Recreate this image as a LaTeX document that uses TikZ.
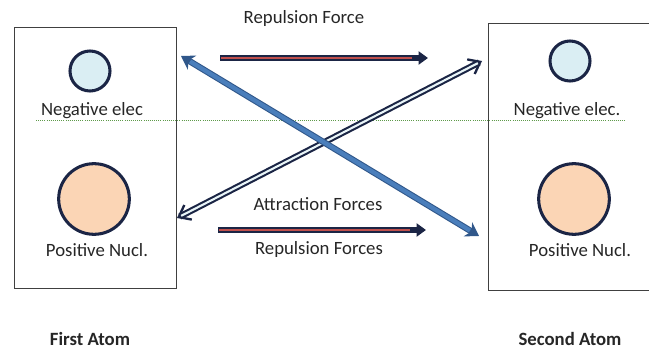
\documentclass[tikz,border=0pt]{standalone}
\usepackage{fontspec}
\setmainfont{Carlito}
\usetikzlibrary{arrows.meta}
\definecolor{navyline}{HTML}{1B2545}
\definecolor{elecfill}{HTML}{DAEEF3}
\definecolor{nuclfill}{HTML}{FBD5B5}
\definecolor{bluearrow}{HTML}{4A7EBB}
\definecolor{blueedge}{HTML}{30578A}
\definecolor{redcore}{HTML}{C0504D}
\definecolor{squiggle}{HTML}{5E9A4A}
\begin{document}
\begin{tikzpicture}[x=0.03cm, y=-0.03cm, every node/.style={font=\fontsize{16}{18}\selectfont, text=black!85, inner sep=1pt}]
    \tikzset{elec/.style={draw=navyline,circle,line width=2.6pt,fill=elecfill,minimum size=1.2cm, inner sep=0pt}};
    \tikzset{nucl/.style={draw=navyline,circle,line width=2.6pt,fill=nuclfill,minimum size=2.12cm, inner sep=0pt}};
    \tikzset{atomwall/.style={draw=black!75,line width=0.8pt}};
    \tikzset{repel/.style={draw=navyline,line width=5pt,-{Triangle[length=8pt,width=11pt]}}};
    \tikzset{repelcore/.style={draw=redcore,line width=1.8pt}};
    \useasboundingbox (0,0) rectangle (649,349);
    % boxes of the two atoms
    \draw[atomwall] (14,27) rectangle (176,288);
    \draw[atomwall] (649,23) -- (488,23) -- (488,290) -- (649,290);
    % spell check line
    \draw[squiggle, densely dotted, line width=0.8pt] (36,120) -- (625,120);
    % first atom
    \node[elec] (sE1) at (90,71) {};
    \node (sLE1) at (92,111) {Negative elec};
    \node[nucl] (sN1) at (94,199) {};
    \node (sLN1) at (97,250) {Positive Nucl.};
    \node[font=\fontsize{16}{18}\selectfont\bfseries] (sA1) at (90,339) {First Atom};
    % second atom
    \node[elec] (sE2) at (570,61) {};
    \node (sLE2) at (567,111) {Negative elec.};
    \node[nucl] (sN2) at (574,199) {};
    \node (sLN2) at (580,250) {Positive Nucl.};
    \node[font=\fontsize{16}{18}\selectfont\bfseries] (sA2) at (570,339) {Second Atom};
    % force labels
    \node (sF1) at (304,19) {Repulsion Force};
    \node (sF2) at (318,204) {Attraction Forces};
    \node (sF3) at (319,250) {Repulsion Forces};
    % arrow ends
    \coordinate (rA) at (220,58);
    \coordinate (rB) at (428,58);
    \coordinate (rC) at (218,230);
    \coordinate (rD) at (426,230);
    \coordinate (bA) at (181,56);
    \coordinate (bB) at (479,236);
    \coordinate (dA) at (177,218);
    \coordinate (dB) at (482,61);
    {
      \path
        (rA) edge[repel] (rB)
        (rC) edge[repel] (rD)
        ;
      \draw[repelcore] ([xshift=1pt]rA) -- ([xshift=-14pt]rB);
      \draw[repelcore] ([xshift=1pt]rC) -- ([xshift=-14pt]rD);
      }
    % attraction arrow
    \draw[navyline, line width=5.4pt, {Straight Barb[length=9pt,width=14pt,line width=2pt]}-{Straight Barb[length=9pt,width=14pt,line width=2pt]}] (dA) -- (dB);
    \draw[elecfill!60!white, line width=1.8pt, shorten <=4pt, shorten >=4pt] (dA) -- (dB);
    % crossing repulsion arrow
    \draw[blueedge, line width=5.4pt, {Stealth[length=11pt,width=14pt]}-{Stealth[length=11pt,width=14pt]}] (bA) -- (bB);
    \draw[bluearrow, line width=3.6pt, shorten <=9pt, shorten >=9pt] (bA) -- (bB);
\end{tikzpicture}
\end{document}
